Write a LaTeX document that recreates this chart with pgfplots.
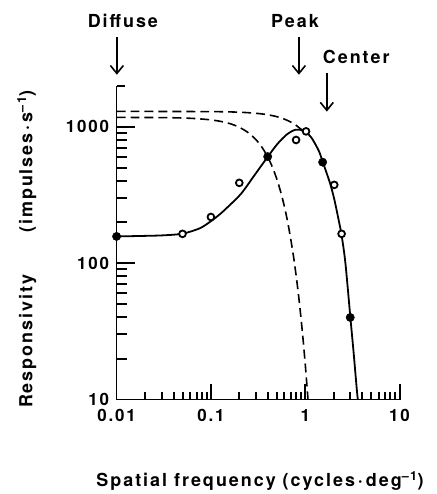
\documentclass[border=0pt]{standalone}
\usepackage{fontspec}
\setmainfont{TeX Gyre Heros}[LetterSpace=11]
\usepackage{pgfplots}
\pgfplotsset{compat=1.18}
\usetikzlibrary{arrows.meta}

\pgfplotstableread{
x y
0.01 157
0.02 158.5
0.0316 160
0.05 164.5
0.076 180
0.1 203
0.126 230
0.15 257
0.2083 322
0.2876 438
0.397 597
0.5065 747
0.6457 884
0.792 951
0.969 935
1.157 836
1.394 665
1.53 555
1.7 450
1.853 376
2.03 295
2.268 205
2.43 160
2.667 100
3.01 40
3.26 22
3.54 11.4
3.62 10
}\solidcurve

\pgfplotstableread{
x y
0.01 1296
0.1 1291
0.2 1278
0.3 1255
0.4 1225
0.5 1185
0.6 1138
0.7 1084
0.8 1024
0.9 960
0.95 941
}\centercurve

\pgfplotstableread{
x y
0.01 1171
0.03 1167
0.05 1159
0.07 1147
0.1 1123
0.13 1091
0.16 1053
0.2 991
0.25 903
0.3 805
0.35 703
0.4 601
0.45 504
0.5 413
0.55 332
0.6 262
0.65 202
0.7 152
0.75 113
0.8 81.5
0.85 57.8
0.9 40.1
0.95 27.3
1.0 18.2
1.05 11.9
1.07 10
}\surroundcurve

\pgfplotstableread{
x y
0.01 157
0.4 604
1.53 550
3.0 40
}\filledpts

\pgfplotstableread{
x y
0.05 164
0.1 218
0.2 388
0.8 800
1.02 925
2.03 375
2.43 164
}\openpts

\newcommand{\lblfont}{\bfseries\fontsize{18bp}{20bp}\selectfont}
\newcommand{\tickfont}{\bfseries\fontsize{17bp}{19bp}\selectfont}

\begin{document}
\begin{tikzpicture}
\path (0,0) rectangle (438bp,-494bp);
\begin{axis}[
  at={(117bp,-401bp)}, anchor=south west,
  scale only axis, width=284bp, height=315bp,
  xmode=log, ymode=log,
  xmin=0.01, xmax=10, ymin=10, ymax=2000,
  clip=false,
  axis x line=bottom, axis y line=left,
  axis line style={-, line width=1.8bp},
  tick align=inside,
  major tick length=0pt, minor tick length=0pt,
  xtick={0.01,0.1,1,10}, xticklabels={0.01,0.1,1,10},
  minor xtick={0.02,0.03,0.04,0.05,0.06,0.07,0.08,0.09,0.2,0.3,0.4,0.5,0.6,0.7,0.8,0.9,2,3,4,5,6,7,8,9},
  ytick={10,100,1000}, yticklabels={10,100,1000},
  minor ytick={20,30,40,50,60,70,80,90,200,300,400,500,600,700,800,900,2000},
  tick label style={font=\tickfont},
  xticklabel style={yshift=-6bp},
  yticklabel style={xshift=-4bp},
  xlabel={Spatial frequency (cycles\hspace{3bp}·\hspace{3bp}deg\textsuperscript{–1})},
  ylabel={Responsivity\hspace{42bp}(impulses\hspace{3bp}·\hspace{3bp}s\textsuperscript{–1})},
  xlabel style={at={(axis description cs:0.507,-0.26)}, anchor=center, font=\lblfont},
  ylabel style={at={(axis description cs:-0.317,0.479)}, anchor=center, font=\lblfont},
]
\addplot[black, line width=1.8bp, smooth, no markers] table {\solidcurve};
\addplot[black, line width=1.6bp, dash pattern=on 9bp off 5bp, smooth, no markers] table {\centercurve};
\addplot[black, line width=1.6bp, dash pattern=on 9bp off 5bp, smooth, no markers] table {\surroundcurve};
\addplot[only marks, mark=*, mark size=4.2bp, mark options={fill=black, draw=black}] table {\filledpts};
\addplot[only marks, mark=*, mark size=3.4bp, mark options={fill=white, draw=black, line width=1.8bp}] table {\openpts};
\end{axis}
% inward tick marks on the two axis lines (axis box: x 117..401 bp, y -401..-86 bp)
\foreach \v/\len in {0.02/8,0.03/8,0.04/8,0.05/8,0.06/8,0.07/8,0.08/8,0.09/8,0.1/16,0.2/8,0.3/8,0.4/8,0.5/8,0.6/8,0.7/8,0.8/8,0.9/8,1/16,2/8,3/8,4/8,5/8,6/8,7/8,8/8,9/8,10/16}{
  \pgfmathsetmacro{\px}{117+(log10(\v)+2)*94.6667}
  \draw[line width=2bp, line cap=butt] (\px bp,-401bp) -- (\px bp,-401bp+\len bp);
}
\foreach \v/\len in {20/10,30/10,40/10,50/10,60/10,70/10,80/10,90/10,100/18,200/10,300/10,400/10,500/10,600/10,700/10,800/10,900/10,1000/18,2000/8}{
  \pgfmathsetmacro{\py}{-401+log10(\v/10)*136.8942}
  \draw[line width=2bp, line cap=butt] (117bp,\py bp) -- (117bp+\len bp,\py bp);
}
\tikzset{annarrow/.style={line width=1.6bp, -{Straight Barb[length=8bp, width=13bp]}}}
\draw[annarrow] (117.3bp,-37bp) -- (117.3bp,-75bp);
\draw[annarrow] (300bp,-37bp) -- (300bp,-75bp);
\draw[annarrow] (328bp,-73bp) -- (328bp,-112bp);
\node[font=\lblfont, inner sep=0pt] at (123.3bp,-21.3bp) {Diffuse};
\node[font=\lblfont, inner sep=0pt] at (296bp,-21bp) {Peak};
\node[font=\lblfont, inner sep=0pt] at (357.5bp,-56.7bp) {Center};
\end{tikzpicture}
\end{document}
